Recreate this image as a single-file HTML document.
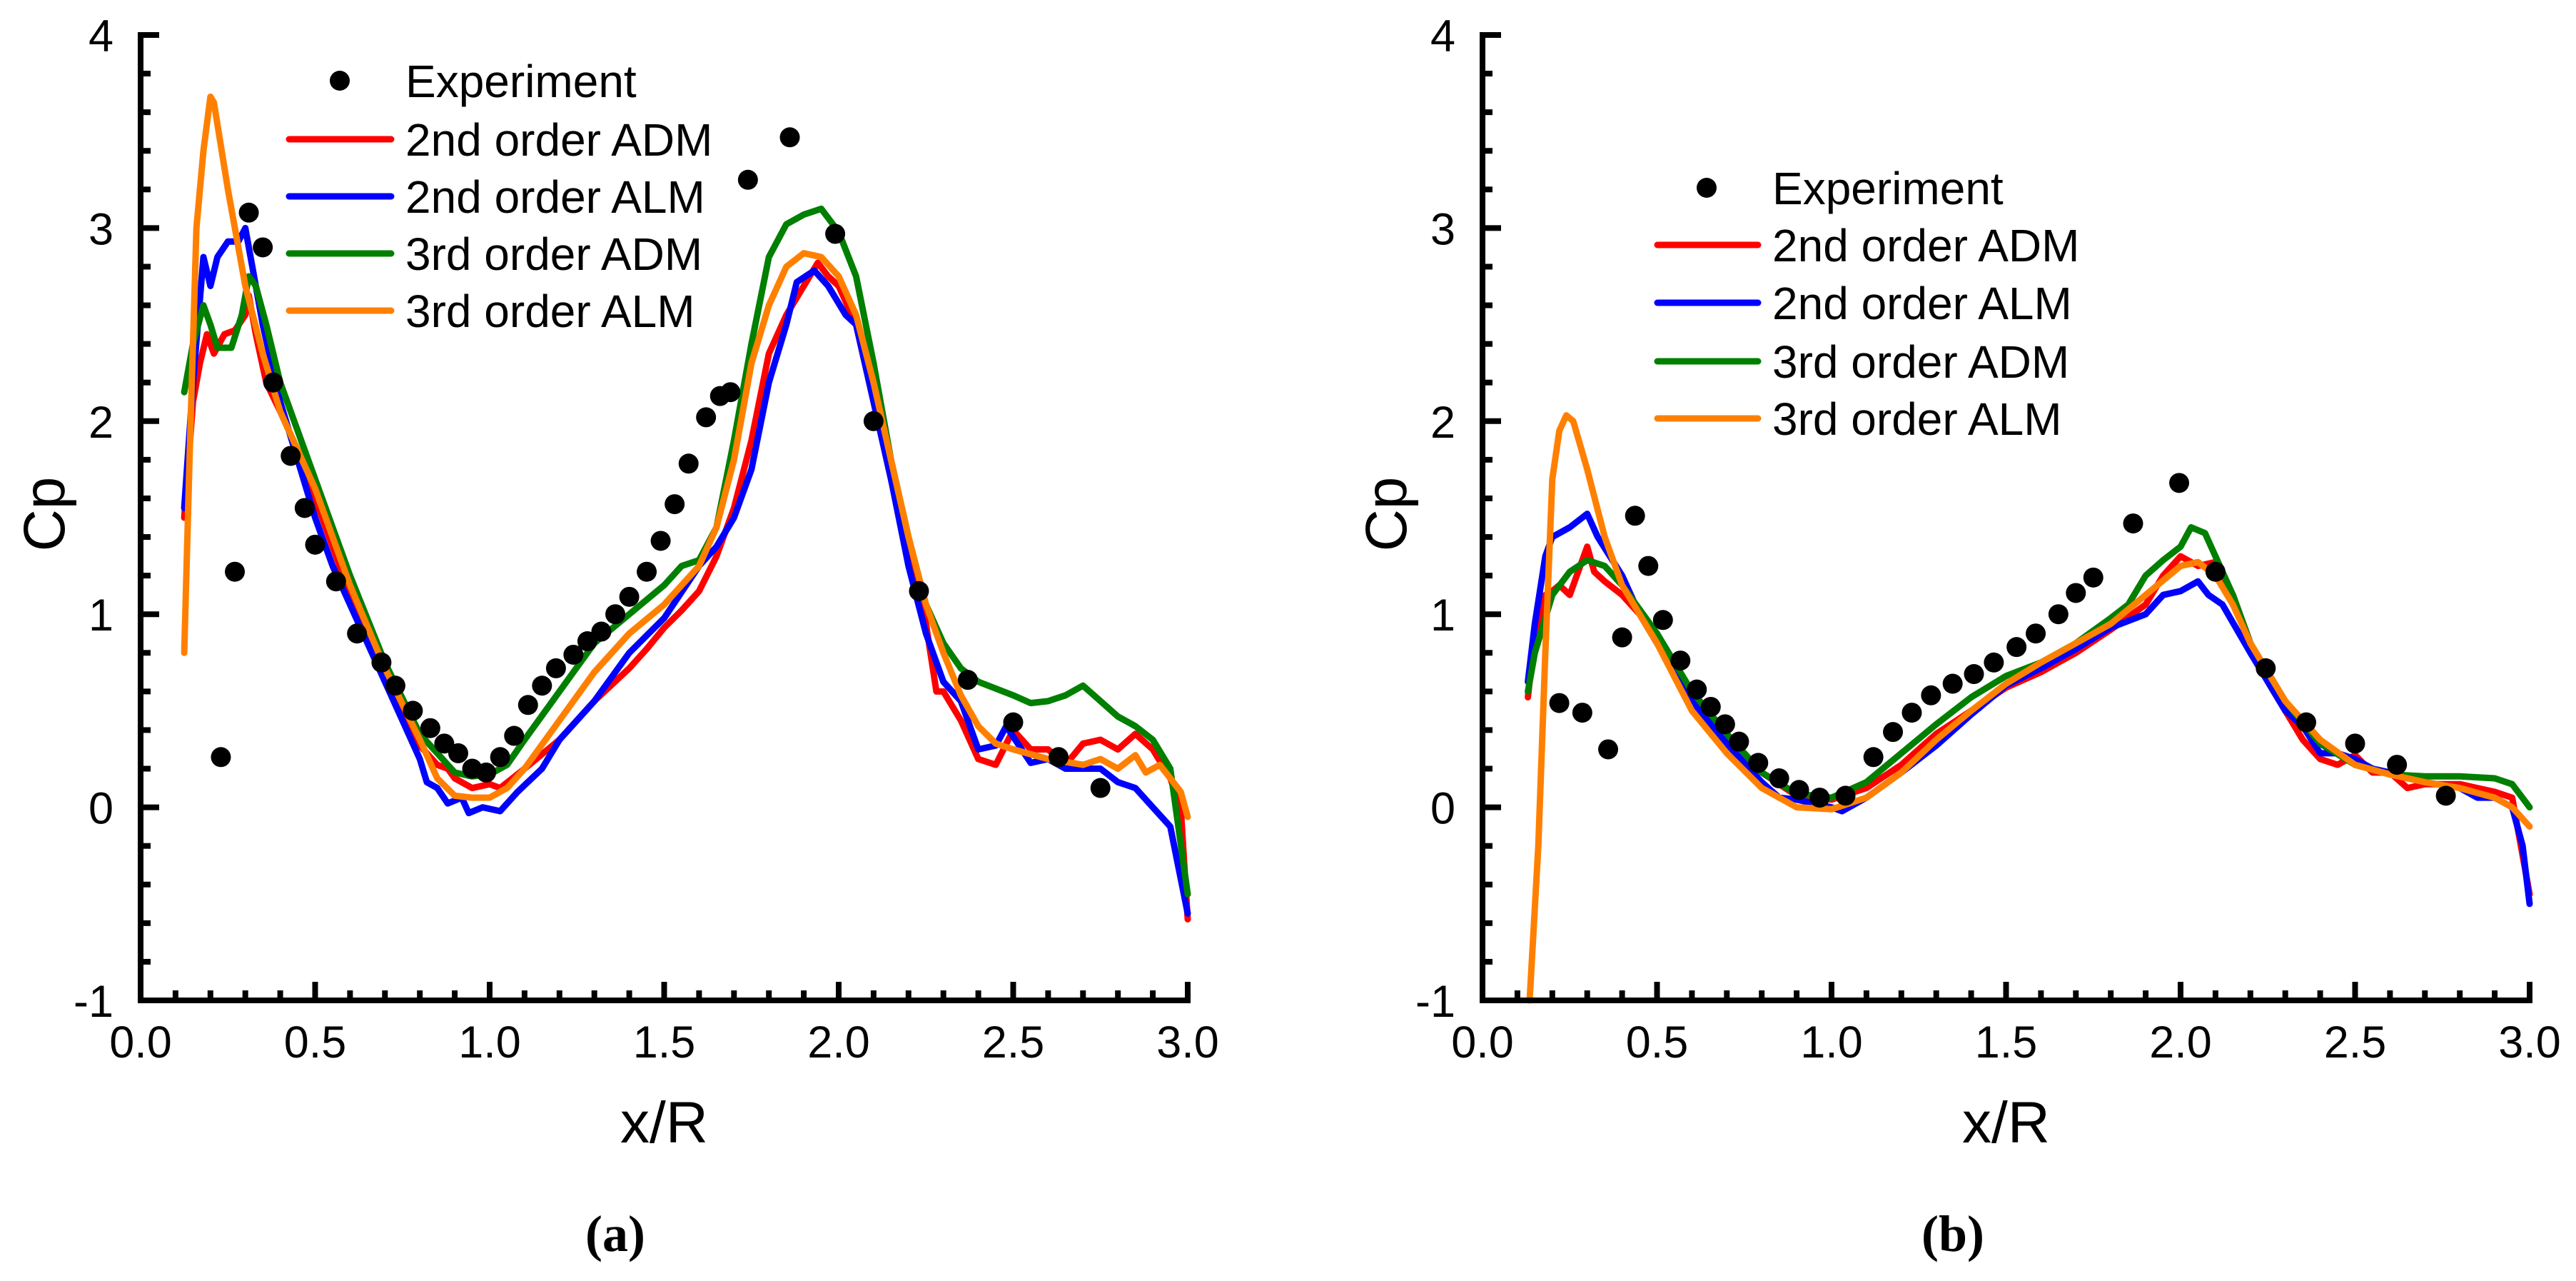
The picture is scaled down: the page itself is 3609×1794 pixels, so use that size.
<!DOCTYPE html>
<html><head><meta charset="utf-8"><style>
html,body{margin:0;padding:0;background:#fff;}
svg{display:block;}
text{font-family:"Liberation Sans",sans-serif;fill:#000;}
</style></head><body>
<svg id="fig" width="3609" height="1794" viewBox="0 0 3609 1794" xmlns="http://www.w3.org/2000/svg"></svg>
<script>
const xTicks=[0.0,0.5,1.0,1.5,2.0,2.5,3.0];
const yTicks=[-1,0,1,2,3,4];
const seriesNames=["2nd order ADM","2nd order ALM","3rd order ADM","3rd order ALM"];
const seriesColors=["#ff0000","#0000ff","#007f00","#ff8000"];

const expA_x=[0.23,0.27,0.31,0.35,0.38,0.43,0.47,0.5,0.56,0.62,0.69,0.73,0.78,0.83,0.87,0.91,0.95,0.99,1.03,1.07,1.11,1.15,1.19,1.24,1.28,1.32,1.36,1.4,1.45,1.49,1.53,1.57,1.62,1.66,1.69,1.74,1.86,1.99,2.1,2.23,2.37,2.5,2.63,2.75];
const expA_y=[0.26,1.22,3.08,2.9,2.2,1.82,1.55,1.36,1.17,0.9,0.75,0.63,0.5,0.41,0.33,0.28,0.2,0.18,0.26,0.37,0.53,0.63,0.72,0.79,0.86,0.91,1.0,1.09,1.22,1.38,1.57,1.78,2.02,2.13,2.15,3.25,3.47,2.97,2.0,1.12,0.66,0.44,0.26,0.1];

const redA_x=[0.125,0.15,0.17,0.19,0.21,0.24,0.27,0.30,0.31,0.33,0.36,0.4,0.45,0.5,0.55,0.6,0.65,0.7,0.75,0.8,0.85,0.88,0.9,0.93,0.95,1.0,1.03,1.1,1.2,1.3,1.4,1.45,1.5,1.55,1.6,1.65,1.7,1.75,1.8,1.85,1.9,1.94,1.97,2.0,2.05,2.1,2.15,2.2,2.25,2.28,2.3,2.35,2.4,2.45,2.5,2.55,2.6,2.65,2.7,2.75,2.8,2.85,2.9,2.95,2.98,3.0];
const redA_y=[1.5,2.1,2.3,2.45,2.35,2.45,2.47,2.55,2.65,2.45,2.2,2.05,1.85,1.6,1.35,1.1,0.9,0.7,0.5,0.32,0.22,0.2,0.15,0.12,0.1,0.12,0.1,0.2,0.35,0.55,0.72,0.82,0.93,1.02,1.12,1.3,1.55,1.9,2.35,2.55,2.7,2.82,2.75,2.7,2.5,2.1,1.7,1.3,0.95,0.6,0.6,0.45,0.25,0.22,0.4,0.3,0.3,0.22,0.33,0.35,0.3,0.38,0.3,0.15,0.0,-0.58];
const blueA_x=[0.125,0.15,0.18,0.2,0.22,0.25,0.28,0.3,0.32,0.35,0.4,0.45,0.5,0.55,0.6,0.65,0.7,0.75,0.8,0.82,0.85,0.88,0.92,0.94,0.98,1.03,1.08,1.15,1.2,1.3,1.4,1.5,1.6,1.65,1.7,1.75,1.8,1.85,1.88,1.93,1.97,2.02,2.05,2.1,2.15,2.2,2.25,2.3,2.35,2.4,2.45,2.48,2.55,2.6,2.65,2.7,2.75,2.8,2.85,2.9,2.95,3.0];
const blueA_y=[1.55,2.2,2.85,2.7,2.85,2.93,2.93,3.0,2.8,2.5,2.1,1.8,1.5,1.25,1.05,0.85,0.65,0.45,0.25,0.13,0.1,0.02,0.05,-0.03,0.0,-0.02,0.08,0.2,0.35,0.55,0.8,0.98,1.25,1.35,1.5,1.75,2.2,2.5,2.72,2.78,2.7,2.55,2.5,2.1,1.7,1.25,0.9,0.65,0.55,0.3,0.32,0.42,0.23,0.25,0.2,0.2,0.2,0.13,0.1,0.0,-0.1,-0.55];
const greenA_x=[0.125,0.15,0.18,0.2,0.22,0.26,0.29,0.31,0.33,0.36,0.4,0.5,0.6,0.7,0.8,0.9,0.95,1.0,1.05,1.1,1.2,1.3,1.4,1.5,1.55,1.6,1.65,1.7,1.75,1.8,1.85,1.9,1.95,2.0,2.05,2.1,2.15,2.2,2.25,2.3,2.35,2.4,2.5,2.55,2.6,2.65,2.7,2.75,2.8,2.85,2.9,2.95,3.0];
const greenA_y=[2.15,2.4,2.6,2.5,2.38,2.38,2.55,2.75,2.7,2.5,2.2,1.7,1.2,0.75,0.38,0.18,0.16,0.17,0.22,0.35,0.6,0.85,1.0,1.15,1.25,1.28,1.45,1.9,2.4,2.85,3.02,3.07,3.1,2.98,2.75,2.3,1.8,1.4,1.05,0.85,0.72,0.65,0.58,0.54,0.55,0.58,0.63,0.55,0.47,0.42,0.35,0.2,-0.45];
const orangeA_x=[0.125,0.14,0.16,0.18,0.2,0.21,0.25,0.3,0.35,0.4,0.5,0.6,0.7,0.8,0.85,0.9,0.95,1.0,1.05,1.1,1.2,1.3,1.4,1.5,1.6,1.65,1.7,1.75,1.8,1.85,1.9,1.95,2.0,2.05,2.1,2.15,2.2,2.25,2.3,2.35,2.4,2.45,2.5,2.6,2.7,2.75,2.8,2.85,2.88,2.92,2.95,2.98,3.0];
const orangeA_y=[0.8,1.8,3.0,3.4,3.68,3.65,3.2,2.7,2.35,2.05,1.65,1.15,0.72,0.35,0.15,0.06,0.05,0.05,0.1,0.2,0.45,0.7,0.9,1.05,1.25,1.45,1.8,2.3,2.6,2.8,2.87,2.85,2.75,2.55,2.2,1.8,1.4,1.05,0.8,0.58,0.42,0.33,0.3,0.25,0.22,0.25,0.2,0.27,0.18,0.22,0.15,0.08,-0.05];

const expB_x=[0.22,0.286,0.36,0.40,0.437,0.475,0.517,0.567,0.614,0.654,0.695,0.735,0.79,0.85,0.907,0.966,1.04,1.12,1.176,1.23,1.285,1.347,1.408,1.465,1.53,1.585,1.65,1.70,1.75,1.864,1.996,2.10,2.244,2.36,2.5,2.62,2.76];
const expB_y=[0.54,0.49,0.30,0.88,1.51,1.25,0.97,0.76,0.61,0.52,0.43,0.34,0.23,0.15,0.09,0.05,0.06,0.26,0.39,0.49,0.58,0.64,0.69,0.75,0.83,0.90,1.0,1.11,1.19,1.47,1.68,1.22,0.72,0.44,0.33,0.22,0.06];

const redB_x=[0.13,0.15,0.18,0.2,0.22,0.25,0.28,0.3,0.32,0.35,0.4,0.45,0.5,0.6,0.7,0.8,0.9,1.0,1.1,1.2,1.3,1.4,1.5,1.6,1.7,1.8,1.9,1.95,2.0,2.05,2.1,2.15,2.2,2.25,2.3,2.35,2.4,2.45,2.5,2.55,2.6,2.65,2.7,2.8,2.85,2.9,2.95,3.0];
const redB_y=[0.57,0.9,1.1,1.12,1.15,1.1,1.25,1.35,1.22,1.17,1.1,1.0,0.85,0.6,0.38,0.18,0.06,0.04,0.1,0.22,0.38,0.5,0.62,0.7,0.8,0.92,1.05,1.2,1.3,1.25,1.27,1.1,0.85,0.65,0.5,0.35,0.25,0.22,0.27,0.18,0.18,0.1,0.12,0.12,0.1,0.08,0.05,-0.45];
const blueB_x=[0.13,0.15,0.18,0.2,0.25,0.3,0.33,0.4,0.45,0.5,0.6,0.7,0.8,0.85,0.9,1.0,1.03,1.1,1.2,1.3,1.4,1.5,1.6,1.7,1.8,1.9,1.95,2.0,2.05,2.08,2.12,2.2,2.25,2.3,2.35,2.4,2.45,2.5,2.55,2.6,2.7,2.8,2.85,2.9,2.95,2.98,3.0];
const blueB_y=[0.65,0.95,1.3,1.4,1.45,1.52,1.4,1.2,1.0,0.85,0.55,0.33,0.13,0.05,0.04,0.0,-0.02,0.05,0.18,0.32,0.48,0.63,0.72,0.82,0.93,1.0,1.1,1.12,1.17,1.1,1.05,0.8,0.65,0.5,0.42,0.28,0.28,0.25,0.2,0.18,0.13,0.1,0.05,0.05,0.0,-0.2,-0.5];
const greenB_x=[0.13,0.15,0.2,0.25,0.3,0.35,0.4,0.5,0.6,0.7,0.8,0.9,1.0,1.1,1.2,1.3,1.4,1.5,1.6,1.7,1.8,1.85,1.9,1.95,2.0,2.03,2.07,2.1,2.15,2.2,2.3,2.4,2.5,2.6,2.7,2.8,2.9,2.95,3.0];
const greenB_y=[0.6,0.8,1.1,1.22,1.28,1.25,1.15,0.9,0.6,0.38,0.18,0.07,0.05,0.13,0.28,0.43,0.57,0.68,0.75,0.85,0.98,1.05,1.2,1.28,1.35,1.45,1.42,1.3,1.1,0.85,0.55,0.33,0.22,0.17,0.16,0.16,0.15,0.12,0.0];
const orangeB_x=[0.135,0.16,0.18,0.2,0.22,0.24,0.26,0.3,0.35,0.4,0.5,0.6,0.7,0.8,0.9,1.0,1.1,1.2,1.3,1.4,1.5,1.6,1.7,1.8,1.9,2.0,2.05,2.1,2.15,2.2,2.3,2.4,2.5,2.6,2.7,2.8,2.9,2.95,3.0];
const orangeB_y=[-1.0,-0.2,0.8,1.7,1.95,2.03,2.0,1.75,1.4,1.15,0.85,0.5,0.28,0.1,0.0,-0.01,0.05,0.18,0.35,0.5,0.64,0.75,0.85,0.95,1.1,1.25,1.27,1.2,1.05,0.85,0.55,0.35,0.22,0.17,0.13,0.1,0.05,0.0,-0.1];

const NS="http://www.w3.org/2000/svg";
const svg=document.getElementById('fig');
function mk(tag,attrs,parent){const e=document.createElementNS(NS,tag);for(const k in attrs)e.setAttribute(k,attrs[k]);(parent||svg).appendChild(e);return e;}

function drawPanel(p){
  const g=mk('g',{});
  
  
  const X=v=>p.x0+(v-0)/3*(p.x1-p.x0);
  const Y=v=>p.y0-(v+1)/5*(p.y0-p.y1);
  // series
  const lines=[[p.r_x,p.r_y],[p.b_x,p.b_y],[p.g_x,p.g_y],[p.o_x,p.o_y]];
  lines.forEach((s,i)=>{
    const d=s[0].map((xv,j)=>(j?'L':'M')+X(xv).toFixed(1)+','+Y(s[1][j]).toFixed(1)).join(' ');
    const pl=mk('path',{d:d,fill:'none',stroke:seriesColors[i],'stroke-width':9,'stroke-linejoin':'round','stroke-linecap':'round'},g);
    
    
  });
  p.ex.forEach((xv,j)=>{
    const c=mk('circle',{cx:X(xv),cy:Y(p.ey[j]),r:14,fill:'#000'},g);
    
    
  });
  // axes
  const ax=mk('path',{d:`M${p.x0},${p.y1} L${p.x0},${p.y0} L${p.x1},${p.y0}`,fill:'none',stroke:'#000','stroke-width':8,'stroke-linecap':'square'},g);
  
  
  for(let k=0;k<=30;k++){const v=k/10;const len=(k%5===0)?26:14;
    mk('line',{x1:X(v),x2:X(v),y1:p.y0,y2:p.y0-len,stroke:'#000','stroke-width':8},g);}
  for(let k=0;k<=25;k++){const v=-1+k*0.2;const len=(k%5===0)?26:14;
    mk('line',{x1:p.x0,x2:p.x0+len,y1:Y(v),y2:Y(v),stroke:'#000','stroke-width':8},g);}
  xTicks.forEach(v=>{const t=mk('text',{x:X(v),y:p.y0+80,'font-size':63,'text-anchor':'middle'},g);t.textContent=v.toFixed(1);
    
    });
  yTicks.forEach(v=>{const t=mk('text',{x:p.x0-38,y:Y(v)+23,'font-size':63,'text-anchor':'end'},g);t.textContent=String(v);
    
    });
  const xt=mk('text',{x:(p.x0+p.x1)/2,y:1600,'font-size':82,'text-anchor':'middle'},g);xt.textContent='x/R';
  
  
  const yt=mk('text',{x:0,y:0,'font-size':82,'text-anchor':'middle',transform:`translate(${p.x0-107},720) rotate(-90)`},g);yt.textContent='Cp';
  
  
  const cap=mk('text',{x:p.capX,y:1752,'font-size':72,'font-weight':'bold','text-anchor':'middle',style:'font-family:"Liberation Serif",serif'},g);cap.textContent=p.cap;
  
  
  // legend
  const lg=mk('g',{},g);
  
  
  const rows=p.legRows;
  const c0=mk('circle',{cx:p.legMark,cy:rows[0],r:14,fill:'#000'},lg);
  
  
  const t0=mk('text',{x:p.legText,y:rows[0]+23,'font-size':64},lg);t0.textContent='Experiment';
  
  
  seriesNames.forEach((n,i)=>{
    const ln=mk('line',{x1:p.legL0,x2:p.legL1,y1:rows[i+1],y2:rows[i+1],stroke:seriesColors[i],'stroke-width':9,'stroke-linecap':'round'},lg);
    
    
    const t=mk('text',{x:p.legText,y:rows[i+1]+23,'font-size':64},lg);t.textContent=n;
    
    
  });
}
drawPanel({id:'panel-a',x0:197,x1:1664,y0:1401,y1:49,cap:'(a)',capX:862,
  ex:expA_x,ey:expA_y,r_x:redA_x,r_y:redA_y,b_x:blueA_x,b_y:blueA_y,g_x:greenA_x,g_y:greenA_y,o_x:orangeA_x,o_y:orangeA_y,
  legRows:[113,195,275,355,435],legMark:476,legText:568,legL0:405,legL1:548});
drawPanel({id:'panel-b',x0:2077,x1:3544,y0:1401,y1:49,cap:'(b)',capX:2736,
  ex:expB_x,ey:expB_y,r_x:redB_x,r_y:redB_y,b_x:blueB_x,b_y:blueB_y,g_x:greenB_x,g_y:greenB_y,o_x:orangeB_x,o_y:orangeB_y,
  legRows:[263,343,424,506,586],legMark:2391,legText:2483,legL0:2322,legL1:2463});
</script>
</body></html>
